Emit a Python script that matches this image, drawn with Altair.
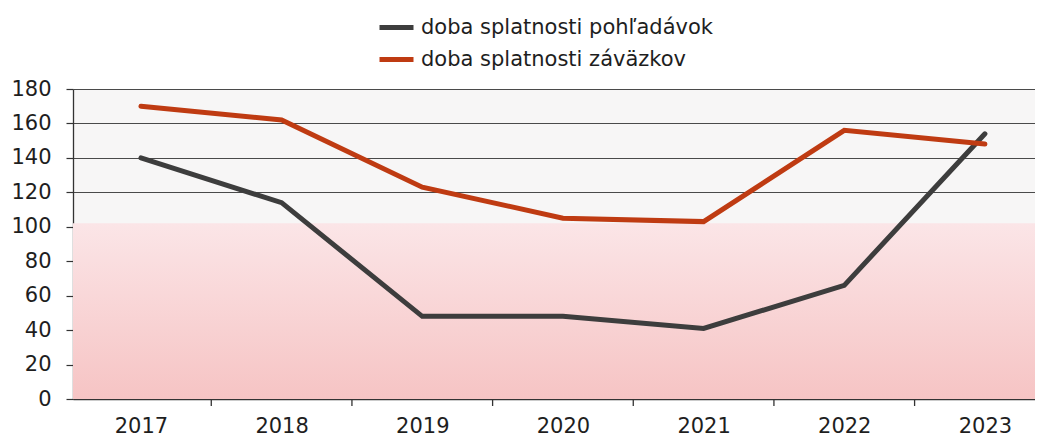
import altair as alt
import pandas as pd

years = [2017, 2018, 2019, 2020, 2021, 2022, 2023]
pohladavky = [140, 114, 48, 48, 41, 66, 154]
zavazky = [170, 162, 123, 105, 103, 156, 148]
series_names = ["doba splatnosti pohľadávok", "doba splatnosti záväzkov"]
series_colors = ["#3d3d3d", "#bf3b12"]
y_ticks = [0, 20, 40, 60, 80, 100, 120, 140, 160, 180]
x_boundaries = [2017.5, 2018.5, 2019.5, 2020.5, 2021.5, 2022.5]

rows = []
for name, vals in zip(series_names, [pohladavky, zavazky]):
    for y, v in zip(years, vals):
        rows.append({"rok": y, "dni": v, "ukazovatel": name})
df = pd.DataFrame(rows)

W, H = 962, 310
FONT = "DejaVu Sans"

xscale = alt.Scale(domain=[2016.517, 2023.356], nice=False, zero=False)
yscale = alt.Scale(domain=[0, 180], nice=False)

xaxis = alt.Axis(values=years, format="d", tickSize=0, grid=False, title=None,
                 domainColor="#333333", domainWidth=1.3, labelFontSize=21,
                 labelColor="#1e1e1e", labelPadding=16, labelFont=FONT)
yaxis = alt.Axis(values=y_ticks, grid=True, gridColor="#4a4a4a", gridWidth=1.2,
                 tickSize=7, tickColor="#333333", tickWidth=1.2, domainColor="#333333",
                 domainWidth=1.3, labelFontSize=21, labelColor="#1e1e1e",
                 labelPadding=15, labelFont=FONT, title=None)

gradient = alt.Gradient(
    gradient="linear",
    stops=[alt.GradientStop(color="#fbe5e7", offset=0),
           alt.GradientStop(color="#f6c4c4", offset=1)],
    x1=0, x2=0, y1=0, y2=1,
)

background = alt.Chart(alt.Data(values=[{}])).mark_rect(color=gradient).encode(
    x=alt.value(0),
    x2=alt.value(W),
    y=alt.YDatum(102, type="quantitative", scale=yscale, axis=yaxis),
    y2=alt.Y2Datum(0),
)

ticks = alt.Chart(pd.DataFrame({"t": x_boundaries})).mark_rule(
    color="#333333", strokeWidth=1.3
).encode(
    x=alt.X("t:Q", scale=xscale, axis=xaxis),
    y=alt.value(H),
    y2=alt.value(H + 7),
)

lines = alt.Chart(df).mark_line(strokeWidth=5, strokeCap="round", strokeJoin="miter").encode(
    x=alt.X("rok:Q", scale=xscale, axis=xaxis),
    y=alt.Y("dni:Q", scale=yscale, axis=yaxis),
    color=alt.Color(
        "ukazovatel:N",
        scale=alt.Scale(domain=series_names, range=series_colors),
        legend=alt.Legend(
            orient="none", legendX=304, legendY=-81, title=None,
            symbolType="stroke", symbolSize=1156, symbolStrokeWidth=5,
            labelFontSize=21, labelFont=FONT, labelColor="#1e1e1e",
            labelOffset=5, rowPadding=2, padding=0, direction="vertical",
            labelLimit=0,
        ),
    ),
)

chart = alt.layer(background, ticks, lines).properties(
    width=W, height=H,
    autosize=alt.AutoSizeParams(type="none"),
    padding={"left": 65, "top": 81, "right": 0, "bottom": 40},
).configure(font=FONT).configure_view(fill="#f7f6f6", strokeWidth=0)

chart.save("out.html", embed_options={"renderer": "svg", "actions": False})
